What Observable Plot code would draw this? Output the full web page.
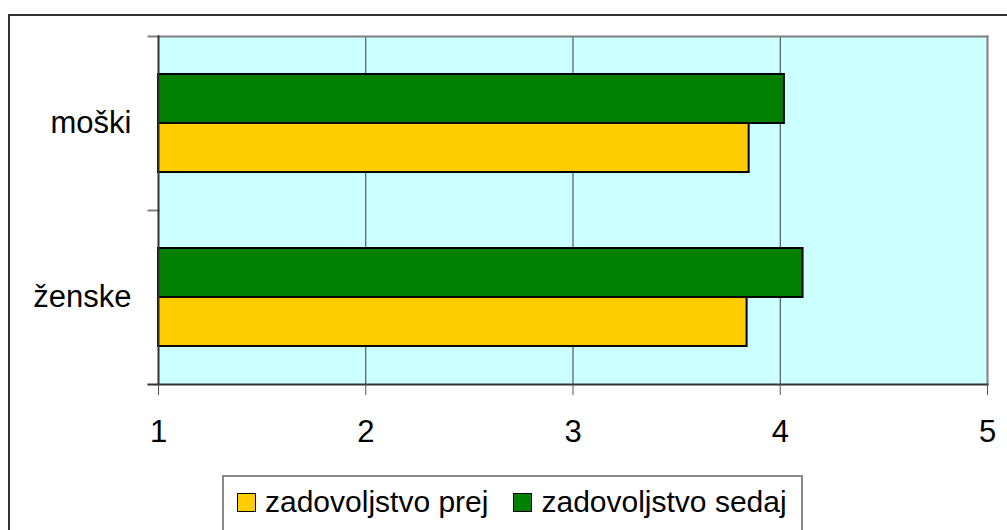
<!DOCTYPE html>
<html>
<head>
<meta charset="utf-8">
<script src="https://cdn.jsdelivr.net/npm/d3@7"></script>
<script src="https://cdn.jsdelivr.net/npm/@observablehq/plot@0.6"></script>
<style>
  html, body { margin: 0; padding: 0; width: 1007px; height: 530px; overflow: hidden; background: #fff; }
  #outer { position: absolute; left: 8px; top: 14px; width: 1100px; height: 600px; border: 2px solid #333; box-sizing: border-box; pointer-events: none; z-index: 2; }
  #chart { position: absolute; left: 0; top: 0; z-index: 1; }
  #legend { position: absolute; left: 222px; top: 475px; width: 581px; height: 90px; border: 2px solid #8a8a8a; box-sizing: border-box;
            display: flex; flex-wrap: nowrap; align-items: flex-start; padding: 8px 0 0 13px; white-space: nowrap;
            font-family: "Liberation Sans", Arial, sans-serif; font-size: 30px; color: #000; z-index: 3; background: #fff; }
  .item { display: flex; align-items: center; height: 34px; margin-right: 25px; white-space: nowrap; flex: none; }
  .sw { width: 17px; height: 17px; border: 1.5px solid #000; margin-right: 9px; flex: none; }
</style>
</head>
<body>
<div id="outer"></div>
<div id="chart"></div>
<div id="legend"></div>
<script>
const groups = ["moški", "ženske"];
const seriesNames = ["zadovoljstvo prej", "zadovoljstvo sedaj"];
const prej = [3.85, 3.84];
const sedaj = [4.02, 4.11];
const xTicks = [1, 2, 3, 4, 5];
const gridTicks = [2, 3, 4];
const colors = ["#FFCC00", "#008000"];

const data = [];
groups.forEach((g, i) => {
  data.push({group: g, series: seriesNames[1], value: sedaj[i]});
  data.push({group: g, series: seriesNames[0], value: prej[i]});
});

const W = 1007, H = 460, mL = 158, mR = 20, mT = 35, mB = 76;
const plotW = W - mL - mR;

const chart = Plot.plot({
  width: W, height: H,
  marginLeft: mL, marginRight: mR, marginTop: mT, marginBottom: mB,
  style: {fontFamily: "'Liberation Sans', Arial, sans-serif", fontSize: "31px", color: "#000", background: "transparent", overflow: "visible"},
  x: {domain: [1, 5], label: null},
  y: {domain: [seriesNames[1], seriesNames[0]], paddingInner: 0, paddingOuter: 0.745, axis: null},
  fy: {domain: groups, padding: 0, label: null},
  color: {domain: seriesNames, range: colors},
  marks: [
    Plot.frame({fill: "#CCFFFF", stroke: null, facet: "super"}),
    Plot.ruleX(gridTicks, {stroke: "#3a3a3a", strokeWidth: 1}),
    Plot.barX(data, {fy: "group", y: "series", x1: 1, x2: "value", fill: "series", stroke: "#000", strokeWidth: 2}),
    Plot.frame({anchor: "top", stroke: "#808080", strokeWidth: 2, insetLeft: -10, insetRight: plotW}),
    Plot.frame({anchor: "top", stroke: "#808080", strokeWidth: 2, facet: "super"}),
    Plot.frame({anchor: "right", stroke: "#808080", strokeWidth: 2, facet: "super"}),
    Plot.frame({anchor: "left", stroke: "#333", strokeWidth: 2, facet: "super"}),
    Plot.frame({anchor: "bottom", stroke: "#333", strokeWidth: 2, facet: "super", insetLeft: -10}),
    Plot.axisX({ticks: xTicks, tickFormat: d => String(d), tickSize: 11, tickPadding: 24, stroke: "#555", label: null}),
    Plot.axisFy({anchor: "left", tickSize: 0, tickPadding: 27, label: null})
  ]
});
document.getElementById("chart").appendChild(chart);

const legend = document.getElementById("legend");
seriesNames.forEach((s, i) => {
  const item = document.createElement("div");
  item.className = "item";
  const sw = document.createElement("div");
  sw.className = "sw";
  sw.style.background = colors[i];
  const t = document.createElement("span");
  t.textContent = s;
  item.appendChild(sw);
  item.appendChild(t);
  legend.appendChild(item);
});
</script>
</body>
</html>
